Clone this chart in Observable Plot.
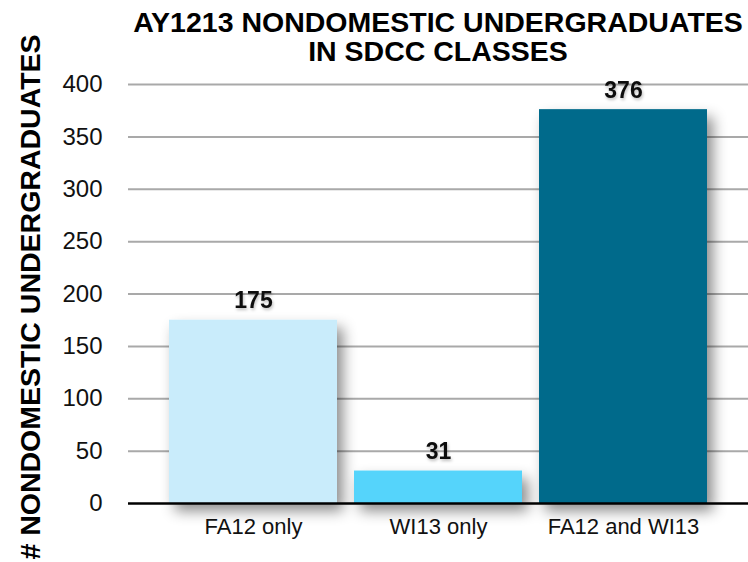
<!DOCTYPE html>
<html>
<head>
<meta charset="utf-8">
<script src="https://cdn.jsdelivr.net/npm/d3@7"></script>
<script src="https://cdn.jsdelivr.net/npm/@observablehq/plot@0.6"></script>
<style>
  body { margin: 0; background: #fff; font-family: "Liberation Sans", Arial, sans-serif; }
  #wrap { position: relative; width: 748px; height: 562px; }
  #title { position: absolute; top: 8px; left: 128px; right: 0; text-align: center;
           font-size: 28.5px; font-weight: bold; line-height: 29px; color: #000; z-index: 2; }
</style>
</head>
<body>
<div id="wrap">
  <div id="title">AY1213 NONDOMESTIC UNDERGRADUATES<br>IN SDCC CLASSES</div>
</div>
<script>
const categories = ["FA12 only", "WI13 only", "FA12 and WI13"];
const values = [175, 31, 376];
const colors = ["#c9ecfb", "#55d4fb", "#006b8b"];
const yTicks = [0, 50, 100, 150, 200, 250, 300, 350, 400];
const yLabel = "# NONDOMESTIC UNDERGRADUATES";

const data = categories.map((c, i) => ({cat: c, value: values[i], color: colors[i]}));

const chart = Plot.plot({
  width: 748,
  height: 562,
  marginTop: 84,
  marginBottom: 59,
  marginLeft: 128,
  marginRight: 0,
  style: {fontFamily: "Liberation Sans, Arial, sans-serif", background: "transparent", overflow: "visible"},
  x: {domain: categories, paddingInner: 0.09, paddingOuter: 0.22, label: null},
  y: {domain: [0, 400], label: null},
  marks: [
    Plot.ruleY(yTicks.filter(d => d > 0), {stroke: "#a9a9a9", strokeWidth: 2}),
    Plot.barY(data, {x: "cat", y: "value", fill: "color"}),
    Plot.ruleY([0], {stroke: "#000", strokeWidth: 2.5}),
    Plot.text(data, {x: "cat", y: "value", text: d => String(d.value), lineAnchor: "bottom", dy: -12,
      fontSize: 23, fontWeight: "bold", fill: "#111"}),
    Plot.axisY({ticks: yTicks, tickSize: 0, tickPadding: 26, fontSize: 24, label: null, color: "#111"}),
    Plot.axisX({tickSize: 0, tickPadding: 15, fontSize: 22, label: null, color: "#111"}),
    Plot.text([yLabel], {frameAnchor: "left", text: d => d, rotate: -90, dx: -98, dy: 3,
      textAnchor: "middle", lineAnchor: "middle",
      fontSize: 28.5, fontWeight: "bold", fill: "#000"})
  ]
});

// drop shadows for bars and value labels
const ns = "http://www.w3.org/2000/svg";
const defs = document.createElementNS(ns, "defs");
defs.innerHTML = `
  <filter id="barShadow" x="-20%" y="-20%" width="150%" height="150%">
    <feDropShadow dx="6" dy="8" stdDeviation="7" flood-color="#000" flood-opacity="0.45"/>
  </filter>
  <filter id="txtShadow" x="-20%" y="-20%" width="150%" height="150%">
    <feDropShadow dx="1" dy="2" stdDeviation="1.5" flood-color="#000" flood-opacity="0.25"/>
  </filter>`;
chart.insertBefore(defs, chart.firstChild);
const bars = chart.querySelector('g[aria-label="bar"]');
if (bars) bars.setAttribute("filter", "url(#barShadow)");
const texts = chart.querySelectorAll('g[aria-label="text"]');
if (texts[0]) texts[0].setAttribute("filter", "url(#txtShadow)");

document.getElementById("wrap").appendChild(chart);
chart.style.position = "absolute";
chart.style.left = "0";
chart.style.top = "0";
</script>
</body>
</html>
